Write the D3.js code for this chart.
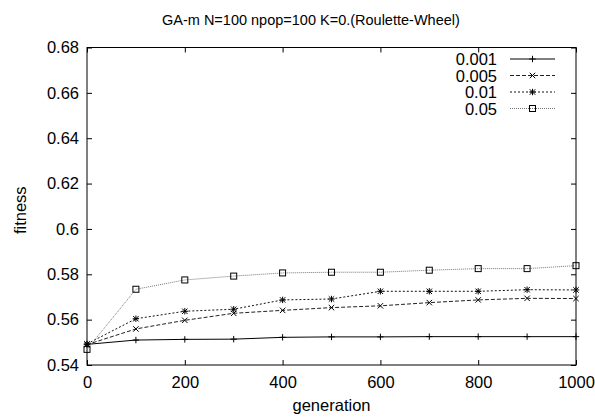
<!DOCTYPE html>
<html>
<head>
<meta charset="utf-8">
<script src="https://cdn.jsdelivr.net/npm/d3@7/dist/d3.min.js"></script>
<style>
  html, body { margin: 0; padding: 0; background: #fff; }
  svg text { font-family: "Liberation Sans", Arial, Helvetica, sans-serif; fill: #000; }
</style>
</head>
<body>
<svg id="chart" width="595" height="417"></svg>
<script>
// Generations sampled every 100 steps
const generations = [0, 100, 200, 300, 400, 500, 600, 700, 800, 900, 1000];

// Mean fitness per mutation rate
const rate0001 = [0.5491, 0.5510, 0.5513, 0.5514, 0.5522, 0.5524, 0.5524, 0.5525, 0.5525, 0.5525, 0.5525];
const rate0005 = [0.5490, 0.5559, 0.5597, 0.5628, 0.5641, 0.5653, 0.5661, 0.5675, 0.5687, 0.5694, 0.5693];
const rate001  = [0.5493, 0.5604, 0.5637, 0.5646, 0.5687, 0.5691, 0.5725, 0.5725, 0.5725, 0.5732, 0.5731];
const rate005  = [0.5469, 0.5734, 0.5775, 0.5792, 0.5806, 0.5809, 0.5809, 0.5818, 0.5825, 0.5825, 0.5838];

const seriesLabels = ["0.001", "0.005", "0.01", "0.05"];
const xTicks = [0, 200, 400, 600, 800, 1000];
const yTicks = [0.54, 0.56, 0.58, 0.6, 0.62, 0.64, 0.66, 0.68];

const titleText = "GA-m N=100 npop=100 K=0.(Roulette-Wheel)";
const xLabel = "generation";
const yLabel = "fitness";

const series = [
  { label: seriesLabels[0], values: rate0001, marker: "plus",   dash: null,  color: "#000" },
  { label: seriesLabels[1], values: rate0005, marker: "cross",  dash: "4,2", color: "#222" },
  { label: seriesLabels[2], values: rate001,  marker: "star",   dash: "2,2", color: "#111" },
  { label: seriesLabels[3], values: rate005,  marker: "square", dash: "1,1", color: "#777" }
];

const svg = d3.select("#chart");
const plot = { left: 87, right: 576, top: 47.5, bottom: 365 };
const labelSize = "16.5px";

const x = d3.scaleLinear().domain([0, 1000]).range([plot.left, plot.right]);
const y = d3.scaleLinear().domain([0.54, 0.68]).range([plot.bottom, plot.top]);

const fmtY = d => (Math.round(d * 100) / 100).toString();

// Axes with inward ticks; mirrored on top and right
const tickLen = 5;
const gBottom = svg.append("g").attr("transform", `translate(0,${plot.bottom})`)
  .call(d3.axisBottom(x).tickValues(xTicks).tickSize(-tickLen).tickPadding(11).tickFormat(d3.format("d")));
const gTop = svg.append("g").attr("transform", `translate(0,${plot.top})`)
  .call(d3.axisTop(x).tickValues(xTicks).tickSize(-tickLen).tickFormat(""));
const gLeft = svg.append("g").attr("transform", `translate(${plot.left},0)`)
  .call(d3.axisLeft(y).tickValues(yTicks).tickSize(-tickLen).tickPadding(8).tickFormat(fmtY));
const gRight = svg.append("g").attr("transform", `translate(${plot.right},0)`)
  .call(d3.axisRight(y).tickValues(yTicks).tickSize(-tickLen).tickFormat(""));

[gBottom, gTop, gLeft, gRight].forEach(g => {
  g.select(".domain").remove();
  g.selectAll(".tick line").attr("stroke", "#000").attr("stroke-width", 1);
  g.selectAll(".tick text").style("font-size", labelSize).attr("fill", "#000");
});

// Frame
svg.append("rect")
  .attr("x", plot.left).attr("y", plot.top)
  .attr("width", plot.right - plot.left).attr("height", plot.bottom - plot.top)
  .attr("fill", "none").attr("stroke", "#000").attr("stroke-width", 1);

// Title and axis labels
svg.append("text").attr("x", 162).attr("y", 25).attr("text-anchor", "start")
  .style("font-size", "14.5px").text(titleText);
svg.append("text").attr("x", (plot.left + plot.right) / 2).attr("y", 411).attr("text-anchor", "middle")
  .style("font-size", labelSize).text(xLabel);
svg.append("text").attr("transform", `translate(26,${(plot.top + plot.bottom) / 2 + 4}) rotate(-90)`)
  .attr("text-anchor", "middle").style("font-size", labelSize).text(yLabel);

// Point markers
function drawMarker(g, kind, cx, cy, color) {
  const s = 3.2;
  const stroke = { stroke: color, "stroke-width": 1, fill: "none" };
  const add = (tag, attrs) => {
    const el = g.append(tag);
    Object.entries(Object.assign({}, stroke, attrs)).forEach(([k, v]) => el.attr(k, v));
  };
  if (kind === "plus" || kind === "star") {
    add("line", { x1: cx - s, x2: cx + s, y1: cy, y2: cy });
    add("line", { x1: cx, x2: cx, y1: cy - s, y2: cy + s });
  }
  if (kind === "cross" || kind === "star") {
    const c = s * 0.85;
    add("line", { x1: cx - c, x2: cx + c, y1: cy - c, y2: cy + c });
    add("line", { x1: cx - c, x2: cx + c, y1: cy + c, y2: cy - c });
  }
  if (kind === "square") {
    add("rect", { x: cx - 3, y: cy - 3, width: 6, height: 6 });
  }
}

const line = d3.line().x(d => x(d[0])).y(d => y(d[1]));

series.forEach(s => {
  const pts = generations.map((g, i) => [g, s.values[i]]);
  svg.append("path").datum(pts)
    .attr("d", line)
    .attr("fill", "none")
    .attr("stroke", s.color)
    .attr("stroke-width", 1)
    .attr("stroke-dasharray", s.dash);
  const gm = svg.append("g");
  pts.forEach(p => drawMarker(gm, s.marker, x(p[0]), y(p[1]), "#000"));
});

// Legend
const legend = { textX: 497, lineX0: 510, lineX1: 555, rows: [59, 75.5, 92, 108.5] };
series.forEach((s, i) => {
  const ly = legend.rows[i];
  svg.append("text").attr("x", legend.textX).attr("y", ly + 6)
    .attr("text-anchor", "end").style("font-size", labelSize).text(s.label);
  svg.append("line")
    .attr("x1", legend.lineX0).attr("x2", legend.lineX1).attr("y1", ly).attr("y2", ly)
    .attr("stroke", s.color).attr("stroke-width", 1).attr("stroke-dasharray", s.dash);
  drawMarker(svg.append("g"), s.marker, (legend.lineX0 + legend.lineX1) / 2, ly, "#000");
});
</script>
</body>
</html>
